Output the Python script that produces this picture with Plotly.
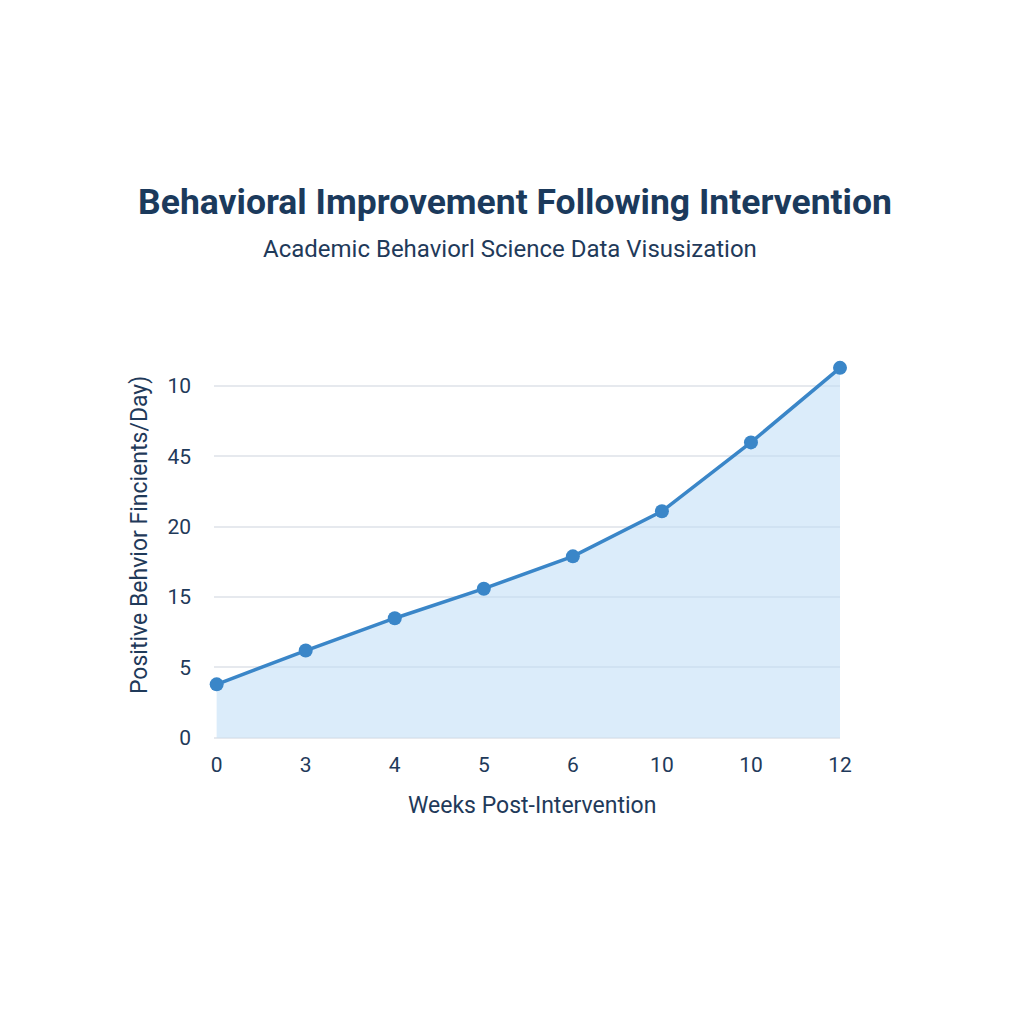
import plotly.graph_objects as go

# Data
week_labels = ["0", "3", "4", "5", "6", "10", "10", "12"]
behavior_values = [3.8, 6.2, 8.5, 10.6, 12.9, 16.1, 21.0, 26.3]
y_tick_vals = [0, 5, 10, 15, 20, 25]
y_tick_text = ["0", "5", "15", "20", "45", "10"]

x_pos = list(range(len(week_labels)))

navy = "#1d3557"
line_blue = "#3a86c8"
text_col = "#1f3a5a"

# plot area in pixels: left 214, right 840, top 358, bottom 742
PL, PR, PT, PB = 214, 840, 358, 742
PW, PH = PR - PL, PB - PT

def px_x(p):
    return (p - PL) / PW

def px_y(p):
    return (PB - p) / PH

fig = go.Figure()
fig.add_trace(go.Scatter(
    x=x_pos, y=behavior_values,
    mode="lines+markers",
    line=dict(color=line_blue, width=3.5),
    marker=dict(color=line_blue, size=14),
    fill="tozeroy",
    fillcolor="rgba(190, 220, 245, 0.55)",
    cliponaxis=False,
    showlegend=False,
))

fig.update_layout(
    width=1024, height=1024,
    paper_bgcolor="white", plot_bgcolor="white",
    margin=dict(l=PL, r=1024 - PR, t=PT, b=1024 - PB),
    font=dict(family="Roboto", color=navy),
    title=dict(
        text="<b>Behavioral Improvement Following Intervention</b>",
        x=515 / 1024, xanchor="center", y=1 - 202 / 1024, yanchor="middle",
        font=dict(size=35.5, color="#1b3a5c"),
    ),
    annotations=[
        dict(text="Academic Behaviorl Science Data Visusization",
             xref="paper", yref="paper", x=px_x(510), y=px_y(249),
             xanchor="center", yanchor="middle", showarrow=False,
             font=dict(size=24, color=text_col)),
        dict(text="Weeks Post-Intervention",
             xref="paper", yref="paper", x=px_x(532), y=px_y(805),
             xanchor="center", yanchor="middle", showarrow=False,
             font=dict(size=23, color=text_col)),
        dict(text="Positive Behvior Fincients/Day)", textangle=-90,
             xref="paper", yref="paper", x=px_x(139), y=px_y(535),
             xanchor="center", yanchor="middle", showarrow=False,
             font=dict(size=23, color=text_col)),
    ],
)

fig.update_xaxes(
    range=[-0.03, 7.0],
    tickvals=x_pos, ticktext=week_labels,
    showgrid=False, zeroline=False, showline=False,
    ticks="", ticklabelstandoff=8,
    tickfont=dict(size=21, color=text_col),
)
fig.update_yaxes(
    range=[-0.3, 27],
    tickvals=y_tick_vals, ticktext=y_tick_text,
    showgrid=True, gridcolor="#e6e9ee", gridwidth=1.5,
    zeroline=False, showline=False, ticks="",
    ticklabelstandoff=22,
    tickfont=dict(size=21, color=text_col),
)

fig.write_html("out.html")
